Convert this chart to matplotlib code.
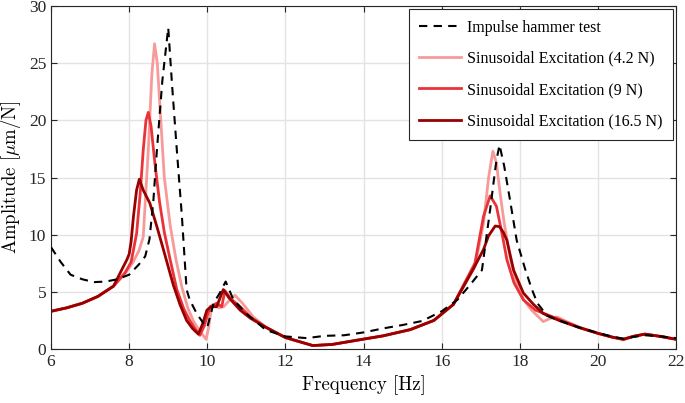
import numpy as np
import matplotlib
matplotlib.use("Agg")
import matplotlib.pyplot as plt

# impulse hammer test (black dashed)
hammer_f = [6.0, 6.25, 6.5, 6.8, 7.1, 7.4, 7.7, 8.0, 8.25, 8.41, 8.52, 8.62, 8.71, 8.85,
            9.0, 9.1, 9.22, 9.35, 9.47, 9.55, 9.73, 9.9, 10.0, 10.16, 10.32, 10.47,
            10.67, 11.0, 11.5, 12.0, 12.55, 13.0, 13.5, 14.0, 14.5, 15.0, 15.5, 16.0,
            16.4, 16.7, 17.03, 17.24, 17.4, 17.48, 17.6, 17.75, 17.92, 18.13, 18.3,
            18.45, 18.7, 19.0, 19.5, 20.0, 20.35, 20.65, 20.9, 21.2, 21.5, 22.0]
hammer_a = [8.9, 7.6, 6.5, 6.1, 5.85, 5.9, 6.1, 6.5, 7.4, 8.1, 9.6, 13.0, 17.4, 23.5,
            28.1, 23.0, 17.4, 11.6, 5.2, 4.3, 3.1, 2.25, 1.9, 4.0, 4.9, 5.9,
            4.3, 3.1, 1.66, 1.1, 0.95, 1.15, 1.2, 1.45, 1.8, 2.1, 2.45, 3.3,
            4.3, 5.5, 6.9, 12.2, 16.5, 17.85, 16.0, 13.0, 9.5, 7.06, 5.3,
            4.0, 2.9, 2.5, 1.9, 1.4, 1.1, 0.9, 1.05, 1.2, 1.15, 0.95]

# sinusoidal excitation 4.2 N
s42_f = [6.0, 6.4, 6.8, 7.2, 7.6, 7.9, 8.1, 8.25, 8.36, 8.49, 8.58, 8.65, 8.72, 8.8,
         8.9, 9.05, 9.2, 9.35, 9.5, 9.65, 9.8, 9.97, 10.04, 10.11, 10.2, 10.3, 10.42,
         10.55, 10.71, 10.9, 11.18, 11.5, 12.0, 12.7, 13.2, 13.8, 14.5, 15.2, 15.8,
         16.3, 16.85, 17.07, 17.2, 17.31, 17.4, 17.5, 17.6, 17.75, 17.9, 18.1, 18.3,
         18.6, 18.8, 18.95, 19.2, 19.6, 20.0, 20.35, 20.65, 20.9, 21.2, 21.6, 22.0]
s42_a = [3.3, 3.6, 4.0, 4.6, 5.5, 6.6, 7.6, 8.6, 9.8, 17.4, 24.0, 26.7, 25.0, 20.5,
         15.0, 10.8, 7.8, 5.4, 3.6, 2.4, 1.6, 0.85, 2.0, 3.7, 3.8, 3.6, 3.7,
         4.2, 4.7, 4.0, 2.8, 1.9, 1.0, 0.3, 0.4, 0.75, 1.15, 1.7, 2.5,
         3.9, 7.2, 11.0, 15.0, 17.3, 16.3, 13.5, 11.0, 8.0, 6.0, 4.3, 3.4,
         2.4, 2.7, 2.8, 2.4, 1.8, 1.37, 1.05, 0.8, 1.1, 1.3, 1.1, 0.85]

# sinusoidal excitation 9 N
s9_f = [6.0, 6.4, 6.8, 7.2, 7.6, 7.9, 8.05, 8.19, 8.28, 8.36, 8.43, 8.49, 8.56, 8.66,
        8.78, 8.9, 9.05, 9.22, 9.4, 9.55, 9.7, 9.81, 9.92, 10.07, 10.24, 10.37, 10.45,
        10.6, 10.84, 11.1, 11.5, 12.0, 12.7, 13.2, 13.8, 14.5, 15.2, 15.8, 16.3,
        16.85, 17.07, 17.24, 17.4, 17.55, 17.67, 17.85, 18.09, 18.4, 18.7,
        19.0, 19.5, 20.0, 20.35, 20.65, 20.9, 21.2, 21.6, 22.0]
s9_a = [3.3, 3.6, 4.0, 4.6, 5.5, 6.7, 7.6, 10.1, 13.5, 17.4, 20.0, 20.7, 19.5, 16.2,
        12.8, 10.2, 7.8, 5.2, 3.5, 2.5, 1.7, 1.2, 2.0, 3.7, 4.0, 3.7, 5.1,
        4.4, 3.7, 2.8, 1.9, 1.0, 0.3, 0.4, 0.75, 1.15, 1.7, 2.5, 3.9,
        7.5, 11.6, 13.4, 12.5, 10.0, 7.8, 5.8, 4.3, 3.4, 3.0,
        2.6, 1.9, 1.37, 1.05, 0.85, 1.1, 1.3, 1.1, 0.85]

# sinusoidal excitation 16.5 N
s165_f = [6.0, 6.4, 6.8, 7.2, 7.6, 7.85, 7.94, 8.0, 8.05, 8.11, 8.19, 8.26, 8.36,
          8.53, 8.71, 8.88, 9.13, 9.3, 9.47, 9.62, 9.77, 9.88, 9.99, 10.1,
          10.24, 10.33, 10.41, 10.55, 10.84, 11.1, 11.5, 12.0, 12.7, 13.2, 13.8,
          14.5, 15.2, 15.8, 16.3, 16.81, 17.07, 17.2, 17.37, 17.48, 17.58, 17.67,
          17.84, 18.09, 18.35, 18.6, 19.0, 19.5, 20.0, 20.35, 20.65, 20.9,
          21.2, 21.6, 22.0]
s165_a = [3.3, 3.6, 4.0, 4.6, 5.5, 7.2, 7.8, 8.3, 9.4, 11.6, 13.9, 14.85, 13.9,
          12.75, 10.7, 8.66, 5.6, 3.9, 2.5, 1.8, 1.3, 2.2, 3.4, 3.7,
          3.7, 4.5, 5.2, 4.5, 3.4, 2.7, 1.9, 1.0, 0.3, 0.4, 0.75,
          1.15, 1.7, 2.5, 3.9, 7.0, 8.7, 9.9, 10.76, 10.7, 10.2, 9.5,
          6.9, 4.9, 3.9, 3.1, 2.5, 1.9, 1.37, 1.05, 0.85, 1.1,
          1.3, 1.1, 0.85]

labels = ["Impulse hammer test", "Sinusoidal Excitation (4.2 N)",
          "Sinusoidal Excitation (9 N)", "Sinusoidal Excitation (16.5 N)"]

plt.rcParams['font.family'] = ['Liberation Serif', 'DejaVu Serif']
plt.rcParams['mathtext.fontset'] = 'cm'

fig = plt.figure(figsize=(6.85, 4.03), dpi=100)
ax = fig.add_axes([0.0745, 0.134, 0.9125, 0.851])

ax.plot(hammer_f, hammer_a, '--', color='black', lw=1.5, dashes=(4, 3), label=labels[0], zorder=5)
ax.plot(s42_f, s42_a, color='#f89a9a', lw=2, label=labels[1])
ax.plot(s9_f, s9_a, color='#ea3339', lw=2, label=labels[2])
ax.plot(s165_f, s165_a, color='#990000', lw=2, label=labels[3])

ax.set_xlim(6, 22)
ax.set_ylim(0, 30)
ax.set_xticks(np.arange(6, 23, 2))
ax.set_yticks(np.arange(0, 31, 5))
ax.grid(True, color='#e3e3e3', lw=1)
ax.set_axisbelow(True)
ax.tick_params(direction='in', top=True, right=True, labelsize=12.5, colors='#262626', length=4)
for s in ax.spines.values():
    s.set_color('#262626')
    s.set_linewidth(0.8)

ax.set_xlabel('Frequency [Hz]', family='cmr10', fontsize=13.5, labelpad=4)
ax.set_ylabel(r'Amplitude [$\mu$m/N]', family='cmr10', fontsize=13.5, labelpad=4)

leg = ax.legend(loc='upper right', fontsize=11.5, handlelength=2.6, labelspacing=0.95,
                borderaxespad=0.2, fancybox=False, framealpha=1, edgecolor='#262626',
                handletextpad=0.4, borderpad=0.65)
leg.get_frame().set_linewidth(0.8)

fig.savefig('out.png', dpi=100)
